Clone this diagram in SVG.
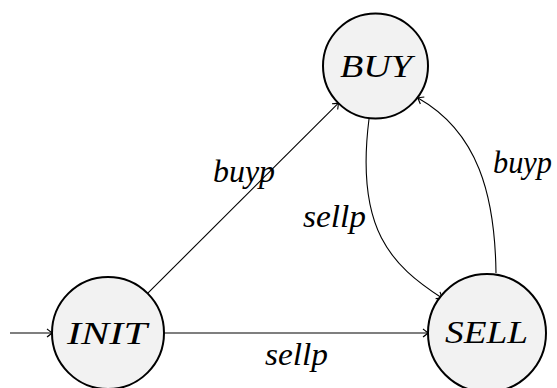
<svg xmlns="http://www.w3.org/2000/svg" width="557" height="388" viewBox="0 0 557 388">
<style>
.st{fill:#f2f2f2;stroke:#000;stroke-width:2}
.e{fill:none;stroke:#000;stroke-width:1.1;marker-end:url(#arr)}
.t{font-family:"Liberation Serif","DejaVu Serif",serif;font-style:italic;font-size:31px;fill:#000}
.n{text-anchor:middle}
</style>
<defs>
<marker id="arr" viewBox="-6 -5 8 10" markerWidth="8" markerHeight="10" refX="0" refY="0" orient="auto" markerUnits="userSpaceOnUse">
<path d="M-5,-4 Q-1,-1 0,0 Q-1,1 -5,4" fill="none" stroke="#000" stroke-width="1.1"/>
</marker>
</defs>
<rect width="557" height="388" fill="#fff"/>
<g id="connectors">
<path class="e" d="M10,333 L52,333"/>
<path class="e" d="M147.6,293.4 L338.4,103.1"/>
<path class="e" d="M164,333 L428,333"/>
<path class="e" d="M369,119 C355,230 391.7,265.3 442,298"/>
<path class="e" d="M496,273 C495,195 478,132 418,98"/>
<text class="t" x="213" y="182" textLength="62" lengthAdjust="spacingAndGlyphs">buyp</text>
<text class="t" x="303" y="227" textLength="63" lengthAdjust="spacingAndGlyphs">sellp</text>
<text class="t" x="493" y="173" textLength="59" lengthAdjust="spacingAndGlyphs">buyp</text>
<text class="t" x="265" y="365" textLength="63" lengthAdjust="spacingAndGlyphs">sellp</text>
</g>
<g id="INIT">
<circle class="st" cx="108" cy="333" r="56"/>
<text class="t" x="67" y="344" textLength="80" lengthAdjust="spacingAndGlyphs">INIT</text>
</g>
<g id="BUY">
<circle class="st" cx="375.5" cy="66" r="52.5"/>
<text class="t" x="340" y="77" textLength="72" lengthAdjust="spacingAndGlyphs">BUY</text>
</g>
<g id="SELL">
<circle class="st" cx="487" cy="333" r="59"/>
<text class="t" x="445" y="343" textLength="83" lengthAdjust="spacingAndGlyphs">SELL</text>
</g>
</svg>
